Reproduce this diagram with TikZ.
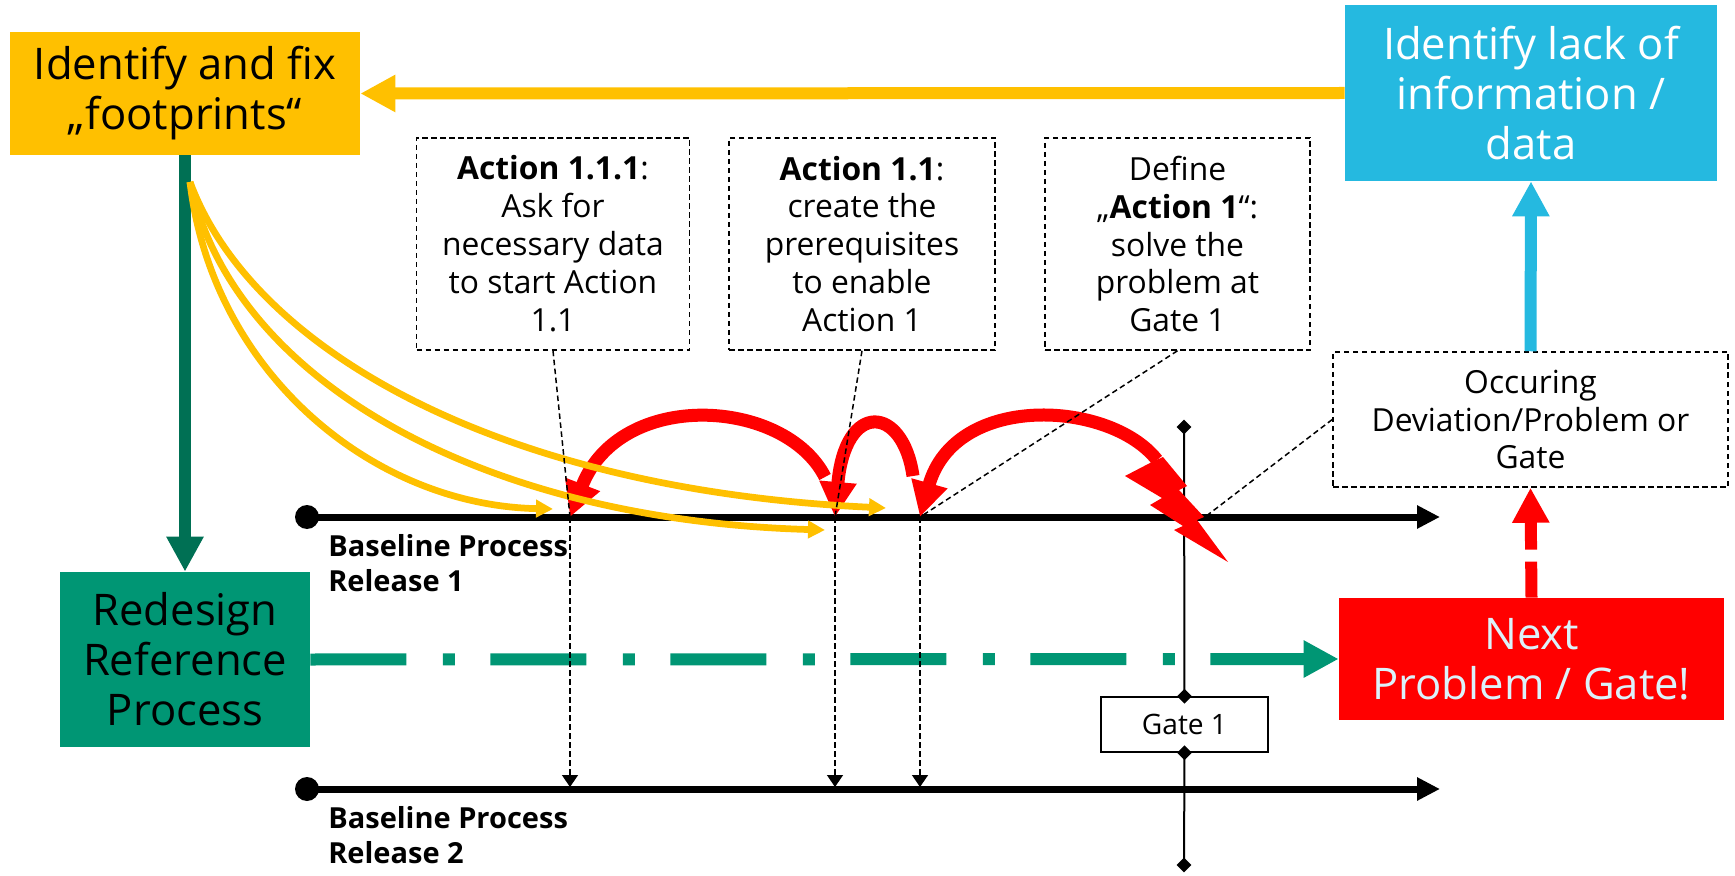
\documentclass[tikz,border=0pt]{standalone}
\usepackage{fontspec}
\setmainfont{Open Sans}
\usetikzlibrary{arrows.meta}
\usetikzlibrary{shapes.geometric}

\definecolor{fhorange}{RGB}{255,192,0}
\definecolor{fhblue}{RGB}{37,185,224}
\definecolor{fhgreen}{RGB}{0,150,116}
\definecolor{fhdarkgreen}{RGB}{0,112,84}
\definecolor{fhred}{RGB}{255,0,0}
\definecolor{fhpale}{RGB}{220,242,250}

\newcommand{\bigfont}{\fontsize{24.8}{28.4}\selectfont}
\newcommand{\smallfont}{\fontsize{18.1}{21.6}\selectfont}

\begin{document}
\begin{tikzpicture}[x=0.2mm,y=-0.2mm,>/.tip={Triangle[length=7mm,width=7mm]},
	box/.style={inner sep=0pt,align=center,font=\bigfont},
	note/.style={draw,line width=0.3mm,dash pattern=on 1.1mm off 0.7mm,inner sep=0pt,align=center,font=\smallfont,minimum height=42.4mm},
	fat/.style={line width=2.4mm,->},
	redarc/.style={draw=fhred,line width=2.6mm,->},
	yellowarc/.style={draw=fhorange,line width=1.35mm,-{Triangle[length=3.4mm,width=3.4mm]}},
	timeline/.style={line width=1.4mm,-{Triangle[length=4.6mm,width=4.4mm]}},
	leader/.style={line width=0.3mm,dash pattern=on 1.1mm off 0.7mm},
	dot/.style={circle,fill,inner sep=0pt,minimum size=4.8mm},
	gdiamond/.style={diamond,fill,inner sep=0pt,minimum size=3mm},
	relname/.style={anchor=north west,inner sep=0pt,align=left,font=\fontsize{16.5}{19.9}\selectfont\bfseries}]
	\useasboundingbox (0,0) rectangle (1735,876);

	\draw (185,93.5) node (fix) [box,fill=fhorange,minimum width=70mm,minimum height=24.6mm] {Identify and fix\\„footprints“};
	\draw (1531,93) node (lack) [box,fill=fhblue,text=white,minimum width=74.4mm,minimum height=35.2mm] {Identify lack of\\information /\\data};
	\draw (185,659.5) node (redesign) [box,fill=fhgreen,minimum width=50mm,minimum height=35mm] {Redesign\\Reference\\Process};
	\draw (1531.5,659) node (next) [box,fill=fhred,text=fhpale,minimum width=77mm,minimum height=24.4mm] {Next\\Problem / Gate!};

	\draw (553,244) node (act111) [note,minimum width=54.6mm] {\textbf{Action 1.1.1}:\\Ask for\\necessary data\\to start Action\\1.1};
	\draw (862,244) node (act11) [note,minimum width=53.2mm] {\textbf{Action 1.1}:\\create the\\prerequisites\\to enable\\Action 1};
	\draw (1177.5,244) node (act1) [note,minimum width=53mm] {Define\\„\textbf{Action 1}“:\\solve the\\problem at\\Gate 1};
	\draw (1530.5,419.5) node (occ) [note,minimum width=79mm,minimum height=27mm] {Occuring\\Deviation/Problem or\\Gate};

	\coordinate (p111) at (570,517);
	\coordinate (p11) at (835,517);
	\coordinate (p1) at (920,517);
	\coordinate (q111) at (570,787);
	\coordinate (q11) at (835,787);
	\coordinate (q1) at (920,787);
	\coordinate (hit) at (1205,517);
	\coordinate (fp) at (190,182);

	\node[dot] (rel1) at (307,517) {};
	\node[dot] (rel2) at (307,789) {};
	\coordinate (rel1end) at (1440,517);
	\coordinate (rel2end) at (1440,789);
	\draw[timeline] (rel1.center) -- (rel1end);
	\draw[timeline] (rel2.center) -- (rel2end);
	\node[relname] (rel1text) at (328,534) {Baseline Process\\Release 1};
	\node[relname] (rel2text) at (328,806) {Baseline Process\\Release 2};

	\draw (1184.5,724.5) node (gate) [draw,line width=0.3mm,minimum width=33.4mm,minimum height=11mm,inner sep=0pt,font=\fontsize{16}{19}\selectfont] {Gate 1};
	\coordinate (gtop) at (1184,427);
	\coordinate (gbot) at (1184,865);
	\draw[line width=0.4mm] (gtop) -- (gate.north);
	\draw[line width=0.4mm] (gate.south) -- (gbot);
	\node[gdiamond] (d1) at (gtop) {};
	\node[gdiamond] (d2) at (gate.north) {};
	\node[gdiamond] (d3) at (gate.south) {};
	\node[gdiamond] (d4) at (gbot) {};

	\draw[fat,fhorange] (lack.west) -- (fix.east);
	\draw[fat,fhblue] (occ.north) -- (lack.south);
	\draw[fat,fhred,dash pattern=on 7.2mm off 2.4mm] (next.north) -- (occ.south);
	\draw[fat,fhdarkgreen] (fix.south) -- (redesign.north);
	\draw[fat,fhgreen,dash pattern=on 19.2mm off 7.3mm on 2.4mm off 7.1mm] (redesign.east) -- (next.west);

	\draw[redarc] (825,477) .. controls (785,398) and (620,388) .. (p111);
	\draw[redarc] (913,476) .. controls (903,405) and (845,400) .. (p11);
	\draw[redarc] (1157,460) .. controls (1110,400) and (955,392) .. (p1);
	\fill[fhred] (1150,463) -- (1125,476) -- (1162,498) -- (1150,505) -- (1183,526) -- (1174,530) -- (1228,562) -- (1197,520) -- (1204,517) -- (1179,490) -- (1187,486) -- (1163,457) -- cycle;

	\draw[yellowarc] (fp) .. controls (212,370) and (370,505) .. (553,509);
	\draw[yellowarc] (fp) .. controls (232,380) and (480,520) .. (825,530);
	\draw[yellowarc] (fp) .. controls (252,350) and (500,490) .. (886,508);

	\draw[leader] (act111.south) -- (p111);
	\draw[leader] (act11.south) -- (p11);
	\draw[leader] (act1.south) -- (p1);
	\draw[leader] (occ.west) -- (hit);
	\draw[leader,-{Triangle[length=2.4mm,width=3.2mm]}] (p111) -- (q111);
	\draw[leader,-{Triangle[length=2.4mm,width=3.2mm]}] (p11) -- (q11);
	\draw[leader,-{Triangle[length=2.4mm,width=3.2mm]}] (p1) -- (q1);
\end{tikzpicture}
\end{document}
